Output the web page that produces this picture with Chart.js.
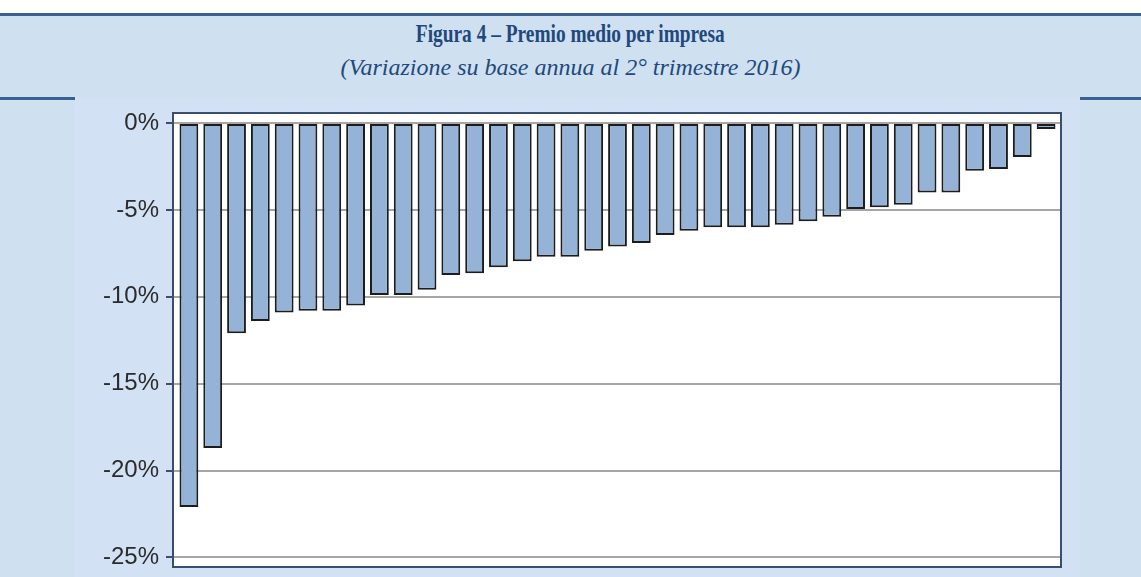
<!DOCTYPE html>
<html>
<head>
<meta charset="utf-8">
<script src="https://cdn.jsdelivr.net/npm/chart.js@4"></script>
<style>
  html, body { margin: 0; padding: 0; }
  body { width: 1141px; height: 577px; position: relative; overflow: hidden; background: #cfe0f0; }
  .top-white { position: absolute; left: 0; top: 0; width: 1141px; height: 13px; background: #fff; }
  .rule-top { position: absolute; left: 0; top: 13px; width: 1141px; height: 3px; background: #3a5f93; }
  .rule-bottom { position: absolute; left: 0; top: 97px; width: 1141px; height: 3px; background: #3a5f93; }
  .title { position: absolute; left: 0; top: 19px; width: 1141px; text-align: center;
           font-family: "Liberation Serif", serif; font-weight: bold; font-size: 26px; color: #1f497d; }
  .title span { display: inline-block; transform: scaleX(0.745); }
  .subtitle { position: absolute; left: 0; top: 54px; width: 1141px; text-align: center;
              font-family: "Liberation Serif", serif; font-style: italic; font-size: 24px; color: #1f497d; }
  .chart-box { position: absolute; left: 75px; top: 97px; width: 1005px; height: 480px; background: #d2e2f4; }
</style>
</head>
<body>
<div class="top-white"></div>
<div class="rule-top"></div>
<div class="title"><span>Figura 4 – Premio medio per impresa</span></div>
<div class="subtitle">(Variazione su base annua al 2° trimestre 2016)</div>
<div class="rule-bottom"></div>
<div class="chart-box"><canvas id="premioChart" width="1005" height="480"></canvas></div>
<script>
// una barra per impresa, ordinate dalla variazione peggiore alla migliore
const imprese = [
  'Impresa 1', 'Impresa 2', 'Impresa 3', 'Impresa 4', 'Impresa 5', 'Impresa 6', 'Impresa 7',
  'Impresa 8', 'Impresa 9', 'Impresa 10', 'Impresa 11', 'Impresa 12', 'Impresa 13', 'Impresa 14',
  'Impresa 15', 'Impresa 16', 'Impresa 17', 'Impresa 18', 'Impresa 19', 'Impresa 20', 'Impresa 21',
  'Impresa 22', 'Impresa 23', 'Impresa 24', 'Impresa 25', 'Impresa 26', 'Impresa 27', 'Impresa 28',
  'Impresa 29', 'Impresa 30', 'Impresa 31', 'Impresa 32', 'Impresa 33', 'Impresa 34', 'Impresa 35',
  'Impresa 36', 'Impresa 37'
];
const variazioni = [
  -22.1, -18.7, -12.1, -11.4, -10.9, -10.8, -10.8, -10.5, -9.9, -9.9,
  -9.6, -8.75, -8.65, -8.3, -7.95, -7.7, -7.7, -7.35, -7.1, -6.9,
  -6.45, -6.2, -6.0, -6.0, -6.0, -5.85, -5.65, -5.4, -4.95, -4.85,
  -4.7, -4.0, -4.0, -2.75, -2.65, -1.95, -0.35
];
const yTicks = [0, -5, -10, -15, -20, -25];

// white plot area and dark frame around it
const framePlugin = {
  id: 'frame',
  beforeDraw(chart) {
    const { ctx, chartArea: a } = chart;
    ctx.save();
    ctx.fillStyle = '#ffffff';
    ctx.fillRect(a.left, a.top, a.right - a.left, a.bottom - a.top);
    ctx.restore();
  },
  afterDraw(chart) {
    const { ctx, chartArea: a } = chart;
    ctx.save();
    ctx.strokeStyle = '#3b4e6e';
    ctx.lineWidth = 2;
    ctx.strokeRect(a.left, a.top, a.right - a.left, a.bottom - a.top);
    ctx.restore();
  }
};

new Chart(document.getElementById('premioChart'), {
  type: 'bar',
  data: {
    datasets: [{
      label: 'Premio medio',
      data: variazioni.map((v, i) => ({ x: i, y: v, impresa: imprese[i] })),
      backgroundColor: '#95b3d7',
      borderColor: '#1c1c1c',
      borderWidth: 2,
      borderSkipped: false,
      barPercentage: 1,
      categoryPercentage: 0.79
    }]
  },
  options: {
    responsive: false,
    animation: false,
    layout: { padding: { left: 28, right: 19, top: 16, bottom: 10 } },
    plugins: {
      legend: { display: false },
      tooltip: { enabled: false }
    },
    scales: {
      x: {
        type: 'linear',
        display: false,
        offset: false,
        min: -0.668,
        max: 36.626
      },
      y: {
        min: -25.55,
        max: 0.575,
        afterBuildTicks: (scale) => { scale.ticks = yTicks.map(v => ({ value: v })); },
        afterFit: (scale) => { scale.width = 70; scale.paddingTop = 0; scale.paddingBottom = 0; },
        border: { display: false },
        grid: {
          color: '#a6a6a6',
          lineWidth: 2,
          tickColor: '#3b4e6e',
          tickWidth: 2,
          tickLength: 7
        },
        ticks: {
          padding: 7,
          color: '#2b2b2b',
          font: { family: 'Liberation Sans', size: 24 },
          callback: (v) => v + '%'
        }
      }
    }
  },
  plugins: [framePlugin]
});
</script>
</body>
</html>
